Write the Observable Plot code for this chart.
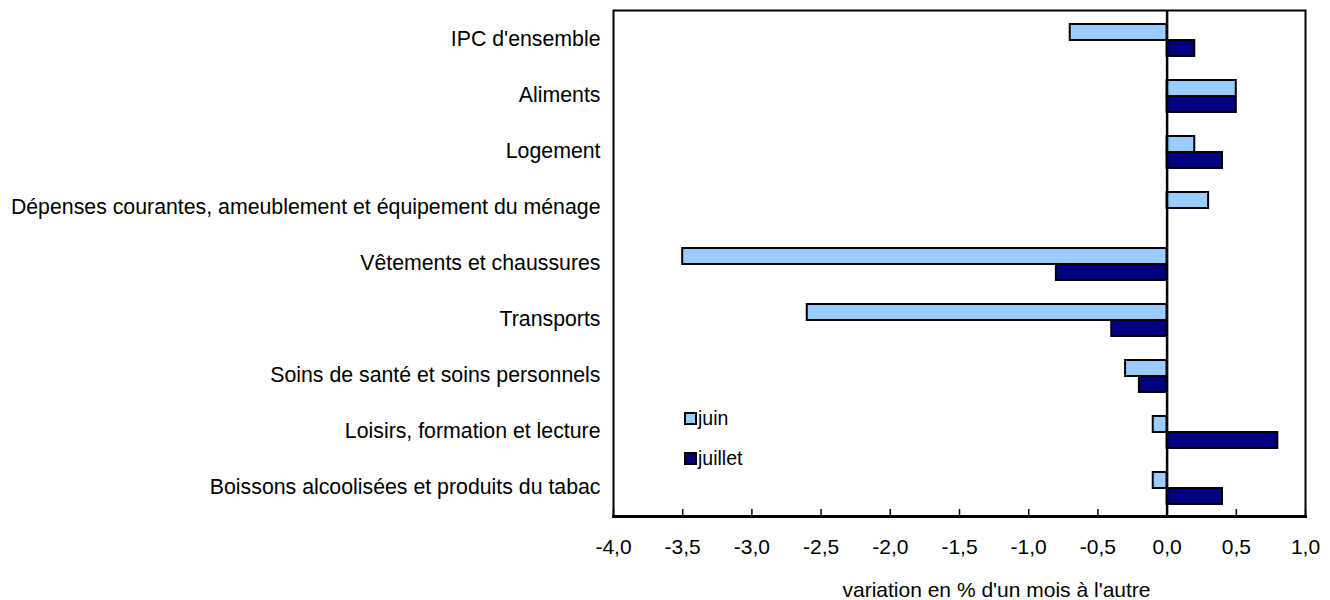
<!DOCTYPE html>
<html>
<head>
<meta charset="utf-8">
<script src="https://cdn.jsdelivr.net/npm/d3@7"></script>
<script src="https://cdn.jsdelivr.net/npm/@observablehq/plot@0.6"></script>
<style>
  body { margin: 0; background: #fff; }
  #wrap { position: relative; width: 1330px; height: 600px; font-family: "Liberation Sans", Arial, Helvetica, sans-serif; }
  .leg { position: absolute; left: 684px; display: flex; align-items: center; font-size: 19.5px; color: #000; }
  .sw { width: 9px; height: 9px; border: 2px solid #000; margin-right: 1px; }
</style>
</head>
<body>
<div id="wrap"></div>
<script>
const categories = [
  "IPC d'ensemble",
  "Aliments",
  "Logement",
  "Dépenses courantes, ameublement et équipement du ménage",
  "Vêtements et chaussures",
  "Transports",
  "Soins de santé et soins personnels",
  "Loisirs, formation et lecture",
  "Boissons alcoolisées et produits du tabac"
];
const seriesNames = ["juin", "juillet"];
const juin    = [-0.7, 0.5, 0.2, 0.3, -3.5, -2.6, -0.3, -0.1, -0.1];
const juillet = [ 0.2, 0.5, 0.4, 0.0, -0.8, -0.4, -0.2,  0.8,  0.4];
const xTicks = [-4, -3.5, -3, -2.5, -2, -1.5, -1, -0.5, 0, 0.5, 1];
const axisTitle = "variation en % d'un mois à l'autre";
const colors = {juin: "#99CCFF", juillet: "#000080"};

const dJuin = categories.map((c, i) => ({cat: c, v: juin[i]}));
const dJuil = categories.map((c, i) => ({cat: c, v: juillet[i]})).filter(d => d.v !== 0);
const fmt = d => d3.format(".1f")(d).replace(".", ",").replace("−", "-");

const chart = Plot.plot({
  width: 1330,
  height: 600,
  marginLeft: 613,
  marginRight: 25,
  marginTop: 10,
  marginBottom: 84,
  x: {domain: [-4, 1]},
  y: {domain: categories, padding: 0},
  style: {fontFamily: '"Liberation Sans", Arial, Helvetica, sans-serif', fontSize: "21px", color: "#000", background: "#fff"},
  marks: [
    Plot.barX(dJuin, {x1: 0, x2: "v", y: "cat", fill: colors.juin, stroke: "#000", strokeWidth: 2, insetTop: 13, insetBottom: 27}),
    Plot.barX(dJuil, {x1: 0, x2: "v", y: "cat", fill: colors.juillet, stroke: "#000", strokeWidth: 2, insetTop: 29, insetBottom: 11}),
    Plot.ruleX([0], {stroke: "#000", strokeWidth: 2.5}),
    Plot.ruleX(xTicks, {x: d => d, stroke: "#000", strokeWidth: 1.5, insetTop: 499}),
    Plot.frame({stroke: "#000", strokeWidth: 2}),
    Plot.frame({anchor: "bottom", stroke: "#000", strokeWidth: 3}),
    Plot.axisY({tickSize: 0, tickPadding: 13, fontSize: 21.3, label: null}),
    Plot.axisX({ticks: xTicks, tickSize: 0, tickPadding: 23, tickFormat: fmt, fontSize: 21, label: null}),
    Plot.text([axisTitle], {text: d => d, frameAnchor: "bottom", dy: 80, dx: 37, fontSize: 21, fill: "#000"})
  ]
});

const wrap = document.getElementById("wrap");
wrap.appendChild(chart);

const legTop = {juin: 407, juillet: 447};
seriesNames.forEach(s => {
  const el = document.createElement("div");
  el.className = "leg";
  el.style.top = legTop[s] + "px";
  const sw = document.createElement("div");
  sw.className = "sw";
  sw.style.background = colors[s];
  const t = document.createElement("span");
  t.textContent = s;
  el.appendChild(sw);
  el.appendChild(t);
  wrap.appendChild(el);
});
</script>
</body>
</html>
